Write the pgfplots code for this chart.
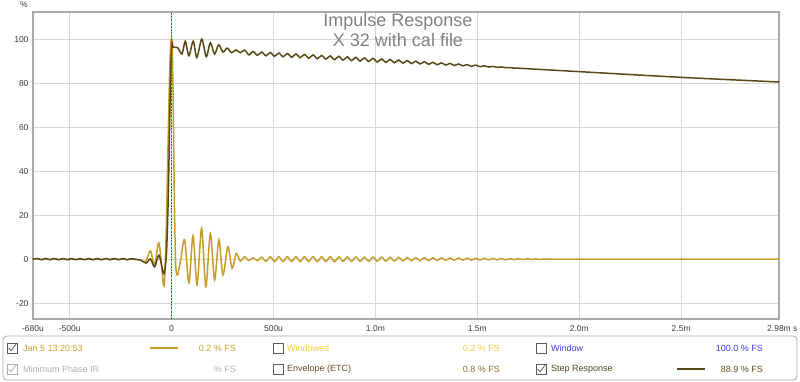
\documentclass[border=0pt]{standalone}
\usepackage{pgfplots}
\pgfplotsset{compat=1.18}
\usepackage{fontspec}
\setmainfont{Liberation Sans}
\definecolor{imp}{RGB}{198,156,42}
\definecolor{stp}{RGB}{88,72,22}
\definecolor{gridc}{RGB}{215,215,215}
\definecolor{framec}{RGB}{170,170,170}
\definecolor{tickc}{RGB}{60,60,60}
\definecolor{titlec}{RGB}{128,128,128}
\definecolor{jantxt}{RGB}{200,160,40}
\definecolor{wintxt}{RGB}{245,200,60}
\definecolor{bluetxt}{RGB}{60,60,230}
\definecolor{graytxt}{RGB}{175,175,175}
\definecolor{envtxt}{RGB}{95,78,30}
\definecolor{envval}{RGB}{130,108,40}
\definecolor{steptxt}{RGB}{80,68,35}
\definecolor{boxc}{RGB}{90,90,90}
\definecolor{markred}{RGB}{235,30,30}
\newcommand{\lgfont}{\fontsize{9}{10}\selectfont}
\begin{document}
\begin{tikzpicture}[x=1pt,y=1pt]
\path[use as bounding box] (0,0) rectangle (800,382);
\begin{axis}[at={(33pt,63pt)}, anchor=south west, scale only axis,
  width=746pt, height=307pt,
  xmin=-680, xmax=2980, ymin=-27, ymax=112.5,
  xtick={-680,-500,0,500,1000,1500,2000,2500,2980},
  xticklabels={-680u,-500u,0,500u,1.0m,1.5m,2.0m,2.5m,{2.98m\rlap{ s}}},
  ytick={-20,0,20,40,60,80,100},
  yticklabels={-20,0,20,40,60,80,100},
  grid=major, major grid style={gridc, line width=0.8pt},
  major tick length=0pt,
  axis line style={framec, line width=1.5pt},
  tick label style={font=\fontsize{8.5}{10}\selectfont, text=tickc},
  xticklabel style={yshift=-3pt},
  yticklabel style={xshift=-1pt},
  clip=true]
\addplot[imp, line width=1.5pt, smooth, tension=0.5] coordinates {
(-680,0.2) (-659,0.45) (-638,-0.05) (-617,0.45) (-596,-0.05) (-575,0.45) (-554,-0.05) (-533,0.45) (-512,-0.05) (-491,0.45) (-470,-0.05) (-449,0.45) (-428,-0.05) (-407,0.45) (-386,-0.05) (-365,0.45) (-344,-0.05) (-323,0.45) (-302,-0.05) (-281,0.45) (-260,-0.05) (-239,0.45) (-218,-0.05) (-197,0.4) (-176,0.1) (-150,-0.3) (-128,-1.0) (-104,4.0) (-84,-2.5) (-62,7.5) (-40,-11.6) (-33,-6) (-26,15) (-18,50) (-10,84) (-4,98) (0,100.5) (4,94) (9,62) (14,25) (20,-2) (29,-7) (45,0) (64,9) (85,-10.5) (105,10.8) (125,-11.5) (147,14.2) (168,-12.3) (190,11.8) (211,-9.2) (232,8.9) (252,-7) (276,5.8) (297,-4) (317,2.8) (337,-0.7) (358,1.3) (379,-0.4) (400,0.8) (421,-0.5) (442,1.1) (463,-0.8) (484,1.3) (505,-0.9) (526,1.3) (547,-0.9) (568,1.3) (589,-0.9) (610,1.3) (631,-0.9) (652,1.3) (673,-0.9) (694,1.3) (715,-0.9) (736,1.3) (757,-0.9) (778,1.3) (799,-0.9) (820,1.2) (841,-0.8) (862,1.2) (883,-0.8) (904,1.2) (925,-0.8) (946,1.1) (967,-0.78) (988,1.15) (1009,-0.73) (1030,1.11) (1051,-0.68) (1072,1.06) (1093,-0.64) (1114,1.01) (1135,-0.59) (1156,0.97) (1177,-0.55) (1198,0.92) (1219,-0.5) (1240,0.88) (1261,-0.45) (1282,0.83) (1303,-0.41) (1324,0.78) (1345,-0.36) (1366,0.74) (1387,-0.31) (1408,0.7) (1429,-0.28) (1450,0.66) (1471,-0.24) (1492,0.61) (1513,-0.19) (1534,0.57) (1555,-0.15) (1576,0.53) (1597,-0.11) (1618,0.48) (1639,-0.06) (1660,0.44) (1681,-0.02) (1702,0.4) (1723,0.03) (1744,0.35) (1765,0.07) (1786,0.31) (1807,0.11) (1828,0.27) (1849,0.16) (1870,0.22) (1900,0.2) (2400,0.2) (2980,0.2)
};
\addplot[stp, line width=1.5pt, smooth, tension=0.5] coordinates {
(-680,0.2) (-659,0.45) (-638,-0.05) (-617,0.45) (-596,-0.05) (-575,0.45) (-554,-0.05) (-533,0.45) (-512,-0.05) (-491,0.45) (-470,-0.05) (-449,0.45) (-428,-0.05) (-407,0.45) (-386,-0.05) (-365,0.45) (-344,-0.05) (-323,0.45) (-302,-0.05) (-281,0.45) (-260,-0.05) (-239,0.45) (-218,-0.05) (-197,0.4) (-176,0.1) (-150,-0.3) (-125,-1.6) (-104,0.3) (-83,-3.3) (-62,2.0) (-40,-6.3) (-32,-4) (-24,5) (-16,30) (-9,65) (-3,90) (2,98.5) (8,96.5) (30,96.3) (51,93.4) (67,99.2) (85,92.6) (106,99.2) (124,91.8) (148,100.2) (170,92.2) (190,98.5) (211,93.4) (231,97.6) (252,94.3) (273,96.1) (294,94) (316,95.3) (337,94) (358,95.2) (379,93.03) (400,94.52) (421,92.81) (442,94.30) (463,92.59) (484,94.08) (505,92.37) (526,93.86) (547,92.16) (568,93.65) (589,91.94) (610,93.43) (631,91.72) (652,93.21) (673,91.50) (694,92.99) (715,91.28) (736,92.77) (757,91.06) (778,92.55) (799,90.84) (820,92.34) (841,90.63) (862,92.12) (883,90.41) (904,91.90) (925,90.19) (946,91.68) (967,89.97) (988,91.46) (1009,89.76) (1030,91.21) (1051,89.58) (1072,90.96) (1093,89.41) (1114,90.70) (1135,89.24) (1156,90.43) (1177,89.06) (1198,90.17) (1219,88.88) (1240,89.91) (1261,88.70) (1282,89.65) (1303,88.52) (1324,89.39) (1345,88.36) (1366,89.13) (1387,88.18) (1408,88.87) (1429,88.00) (1450,88.61) (1471,87.82) (1492,88.35) (1513,87.65) (1534,88.07) (1555,87.49) (1576,87.79) (1597,87.34) (1618,87.52) (1639,87.18) (1660,87.24) (1681,87.02) (1702,86.95) (2000,85.4) (2500,82.8) (2980,80.7)
};
\draw[draw=markred, line width=1pt, dash pattern=on 2pt off 1.2pt] (axis cs:0,-27) -- (axis cs:0,112.5);
\end{axis}
% titles
\node[font=\fontsize{18}{18}\selectfont, text=titlec] at (398pt,360.5pt) {Impulse Response};
\node[font=\fontsize{18}{18}\selectfont, text=titlec] at (398pt,342pt) {X 32 with cal file};
\node[font=\fontsize{8.5}{10}\selectfont, text=tickc] at (24pt,377pt) {\%};
% legend box
\draw[framec, line width=0.8pt, rounded corners=4pt] (3,2) rectangle (797,46);
% row 1
\draw[boxc, line width=0.7pt, fill=white] (7,29) rectangle (17,39);
\draw[boxc, line width=0.8pt] (8.7,34) -- (11,31.3) -- (16,37.8);
\node[font=\lgfont, text=jantxt, anchor=west, inner sep=0pt] at (23,34) {Jan 5 13:20:53};
\draw[imp, line width=1.5pt] (150,34) -- (178,34);
\node[font=\lgfont, text=jantxt, anchor=east, inner sep=0pt] at (236,34) {0.2 \% FS};
\draw[boxc, line width=0.7pt, fill=white] (273,29) rectangle (283,39);
\node[font=\lgfont, text=wintxt, anchor=west, inner sep=0pt] at (287,34) {Windowed};
\node[font=\lgfont, text=wintxt, anchor=east, inner sep=0pt] at (500,34) {0.2 \% FS};
\draw[boxc, line width=0.7pt, fill=white] (536,29) rectangle (546,39);
\node[font=\lgfont, text=bluetxt, anchor=west, inner sep=0pt] at (551,34) {Window};
\node[font=\lgfont, text=bluetxt, anchor=east, inner sep=0pt] at (763,34) {100.0 \% FS};
% row 2
\draw[graytxt, line width=0.7pt, fill=white] (7,8) rectangle (17,18);
\draw[graytxt, line width=0.8pt] (8.7,13) -- (11,10.3) -- (16,16.8);
\node[font=\lgfont, text=graytxt, anchor=west, inner sep=0pt] at (23,13) {Minimum Phase IR};
\node[font=\lgfont, text=graytxt, anchor=east, inner sep=0pt] at (236,13) {\% FS};
\draw[boxc, line width=0.7pt, fill=white] (273,8) rectangle (283,18);
\node[font=\lgfont, text=envtxt, anchor=west, inner sep=0pt] at (287,13) {Envelope (ETC)};
\node[font=\lgfont, text=envval, anchor=east, inner sep=0pt] at (500,13) {0.8 \% FS};
\draw[boxc, line width=0.7pt, fill=white] (536,8) rectangle (546,18);
\draw[boxc, line width=0.8pt] (537.7,13) -- (540,10.3) -- (545,16.8);
\node[font=\lgfont, text=steptxt, anchor=west, inner sep=0pt] at (551,13) {Step Response};
\draw[stp, line width=1.5pt] (677,13) -- (705,13);
\node[font=\lgfont, text=envtxt, anchor=east, inner sep=0pt] at (763,13) {88.9 \% FS};
\end{tikzpicture}
\end{document}
